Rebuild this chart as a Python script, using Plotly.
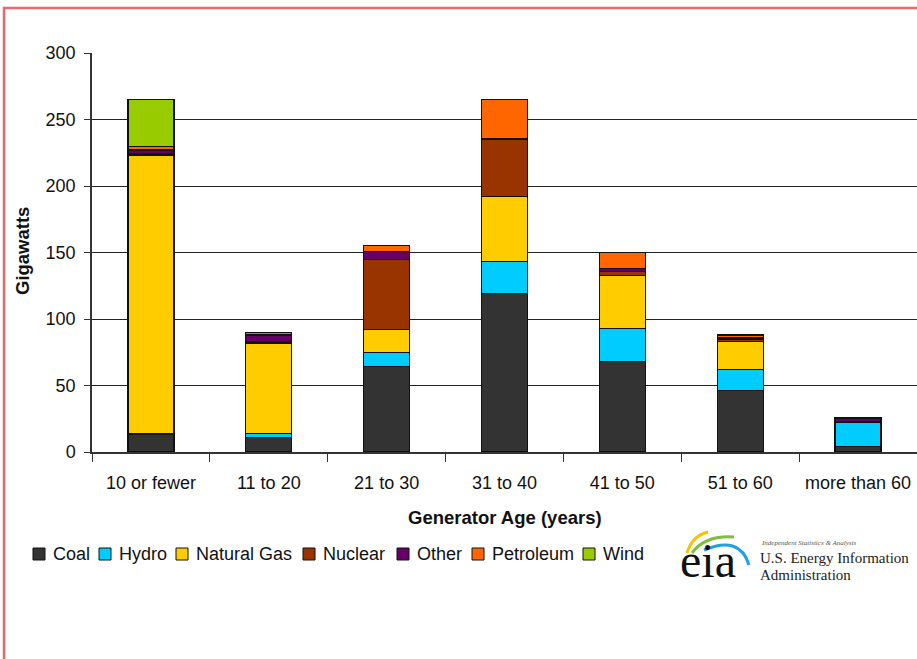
import plotly.graph_objects as go

categories = ["10 or fewer", "11 to 20", "21 to 30", "31 to 40", "41 to 50", "51 to 60", "more than 60"]
coal = [13, 11, 64, 119, 68, 46, 4]
hydro = [1, 3, 11, 24, 25, 16, 18]
natural_gas = [209, 68, 17, 49, 40, 21, 1]
nuclear = [1, 1, 53, 43, 3, 2, 0]
other = [3, 5, 6, 1, 2, 1, 2]
petroleum = [3, 2, 4, 29, 12, 2, 1]
wind = [35, 0, 0, 0, 0, 0, 0]

series = [
    ("Coal", coal, "#333333"),
    ("Hydro", hydro, "#00CCFF"),
    ("Natural Gas", natural_gas, "#FFCC00"),
    ("Nuclear", nuclear, "#993300"),
    ("Other", other, "#660066"),
    ("Petroleum", petroleum, "#FF6600"),
    ("Wind", wind, "#99CC00"),
]
y_ticks = [0, 50, 100, 150, 200, 250, 300]

W, H = 917, 659
L, R, T, B = 92, 0, 53, 207


def px(x):
    return (x - L) / (W - L - R)


def py(y):
    return (H - B - y) / (H - B - T)


FONT = "Liberation Sans, Arial, sans-serif"
SERIF = "Liberation Serif, Times New Roman, serif"

fig = go.Figure()
for name, vals, col in series:
    fig.add_trace(go.Bar(
        name=name, x=categories, y=vals,
        marker=dict(color=col, line=dict(color="#111111", width=1.2)),
    ))

fig.update_layout(
    width=W, height=H,
    margin=dict(l=L, r=R, t=T, b=B, autoexpand=False),
    barmode="stack", bargap=0.61,
    plot_bgcolor="white", paper_bgcolor="white",
    font=dict(family=FONT, size=18, color="#111111"),
    showlegend=False,
    xaxis=dict(
        type="category", tickson="boundaries", ticks="outside", ticklen=8,
        tickcolor="#333", showline=True, linecolor="#333", linewidth=1.5,
        tickfont=dict(size=18), showgrid=False, ticklabelstandoff=14,
    ),
    yaxis=dict(
        range=[0, 300], tickvals=y_ticks, ticks="outside", ticklen=6, tickcolor="#333",
        showline=True, linecolor="#333", linewidth=1.5,
        gridcolor="#222222", gridwidth=1, zeroline=False,
        tickfont=dict(size=18), ticklabelstandoff=5,
    ),
)

# axis titles
fig.add_annotation(x=px(505), y=py(517), xref="paper", yref="paper", xanchor="center", yanchor="middle",
                   text="<b>Generator Age (years)</b>", showarrow=False, font=dict(size=18.5))
fig.add_annotation(x=px(22), y=py(251), xref="paper", yref="paper", xanchor="center", yanchor="middle",
                   text="<b>Gigawatts</b>", textangle=-90, showarrow=False, font=dict(size=18.5))

# legend (manual, compact like the original)
legend_x = [33, 99, 176, 303, 397, 472, 583]
for (name, vals, col), lx in zip(series, legend_x):
    fig.add_shape(type="rect", xref="paper", yref="paper",
                  x0=px(lx), x1=px(lx + 12), y0=py(560), y1=py(548),
                  fillcolor=col, line=dict(color="#111111", width=1))
    fig.add_annotation(x=px(lx + 18), y=py(554), xref="paper", yref="paper",
                       xanchor="left", yanchor="middle", text=name, showarrow=False,
                       font=dict(size=18))

# outer red frame
fig.add_shape(type="rect", xref="paper", yref="paper",
              x0=px(4), x1=px(W + 20), y0=py(H + 20), y1=py(8),
              line=dict(color="#E66A6A", width=2.5), fillcolor="rgba(0,0,0,0)", layer="below")


# EIA logo: swooshes
def path_px(points):
    (x0, y0), (cx, cy), (x1, y1) = points
    return f"M {px(x0)},{py(y0)} Q {px(cx)},{py(cy)} {px(x1)},{py(y1)}"


fig.add_shape(type="path", xref="paper", yref="paper",
              path=path_px([(687, 553), (692, 536), (708, 532)]),
              line=dict(color="#F2C500", width=3))
fig.add_shape(type="path", xref="paper", yref="paper",
              path=path_px([(692, 553), (705, 535), (734, 537)]),
              line=dict(color="#7DBE3C", width=3))
fig.add_shape(type="path", xref="paper", yref="paper",
              path=path_px([(704, 550), (740, 535), (749, 565)]),
              line=dict(color="#1E9FE0", width=3))

fig.add_annotation(x=px(678), y=py(589), xref="paper", yref="paper", xanchor="left", yanchor="bottom",
                   text="eia", showarrow=False, font=dict(family=SERIF, size=48, color="#111"))
fig.add_annotation(x=px(759), y=py(543), xref="paper", yref="paper", xanchor="left", yanchor="middle",
                   text="<i>Independent Statistics &amp; Analysis</i>", showarrow=False,
                   font=dict(family=SERIF, size=7, color="#555"))
fig.add_annotation(x=px(758), y=py(558), xref="paper", yref="paper", xanchor="left", yanchor="middle",
                   text="U.S. Energy Information", showarrow=False,
                   font=dict(family=SERIF, size=15, color="#222"))
fig.add_annotation(x=px(758), y=py(575), xref="paper", yref="paper", xanchor="left", yanchor="middle",
                   text="Administration", showarrow=False,
                   font=dict(family=SERIF, size=15, color="#222"))

fig.write_html("out.html")
